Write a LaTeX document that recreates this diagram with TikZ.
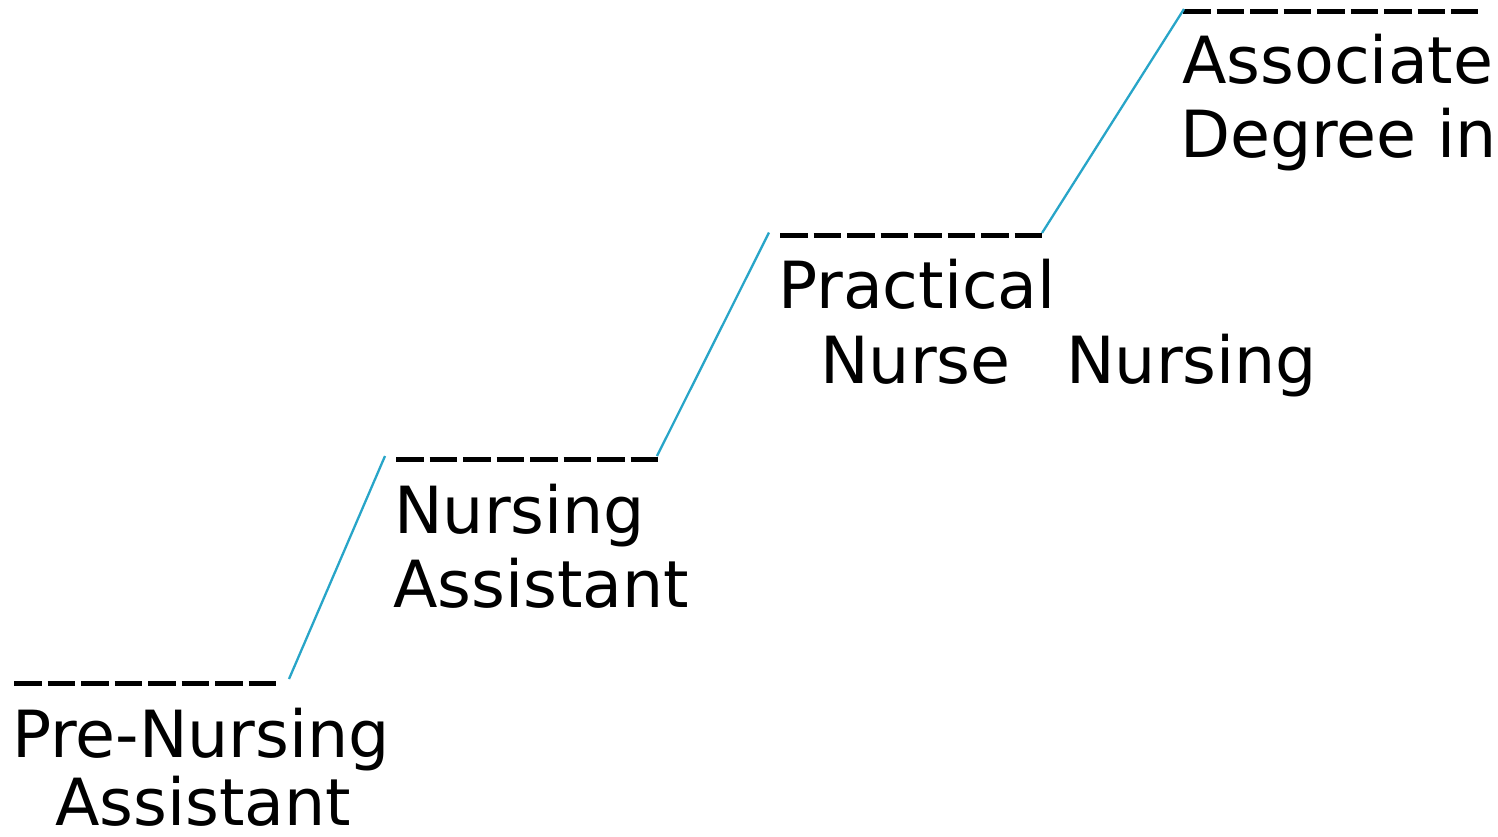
\documentclass[tikz,border=0pt]{standalone}
\usepackage{fontspec}
\setmainfont{DejaVu Sans}
\definecolor{stepblue}{RGB}{40,165,200}
\tikzset{
  stepline/.style={line width=5pt, dash pattern=on 27.5pt off 6pt, line cap=butt, black},
  riser/.style={line width=2.3pt, stepblue},
  lbl/.style={anchor=base west, inner sep=0pt, font=\fontsize{65}{74}\selectfont}
}
\begin{document}
\begin{tikzpicture}[x=1pt,y=-1pt]
\useasboundingbox (0,0) rectangle (1498,836);
% step lines
\coordinate (s1a) at (14,683.5);  \coordinate (s1b) at (277,683.5);
\coordinate (s2a) at (396,459.5); \coordinate (s2b) at (659,459.5);
\coordinate (s3a) at (780,235.5); \coordinate (s3b) at (1043,235.5);
\coordinate (s4a) at (1183,11.5); \coordinate (s4b) at (1478,11.5);
\draw[stepline] (s1a) -- (s1b);
\draw[stepline] (s2a) -- (s2b);
\draw[stepline] (s3a) -- (s3b);
\draw[stepline] (s4a) -- (s4b);
% risers
\coordinate (r1a) at (289,679);  \coordinate (r1b) at (385,456);
\coordinate (r2a) at (657,456);  \coordinate (r2b) at (769,232.5);
\coordinate (r3a) at (1042,233); \coordinate (r3b) at (1184,9);
\draw[riser] (r1a) -- (r1b);
\draw[riser] (r2a) -- (r2b);
\draw[riser] (r3a) -- (r3b);
% labels
\node[lbl] (t1a) at (12,757) {Pre-Nursing};
\node[lbl] (t1b) at (55,825) {Assistant};
\node[lbl] (t2a) at (394,533) {Nursing};
\node[lbl] (t2b) at (393,607) {Assistant};
\node[lbl] (t3a) at (778,308) {Practical};
\node[lbl] (t3b) at (820,383) {Nurse};
\node[lbl] (t4c) at (1066,383) {Nursing};
\node[lbl] (t4a) at (1182,83) {Associate};
\node[lbl] (t4b) at (1180,157) {Degree in};
\end{tikzpicture}
\end{document}
